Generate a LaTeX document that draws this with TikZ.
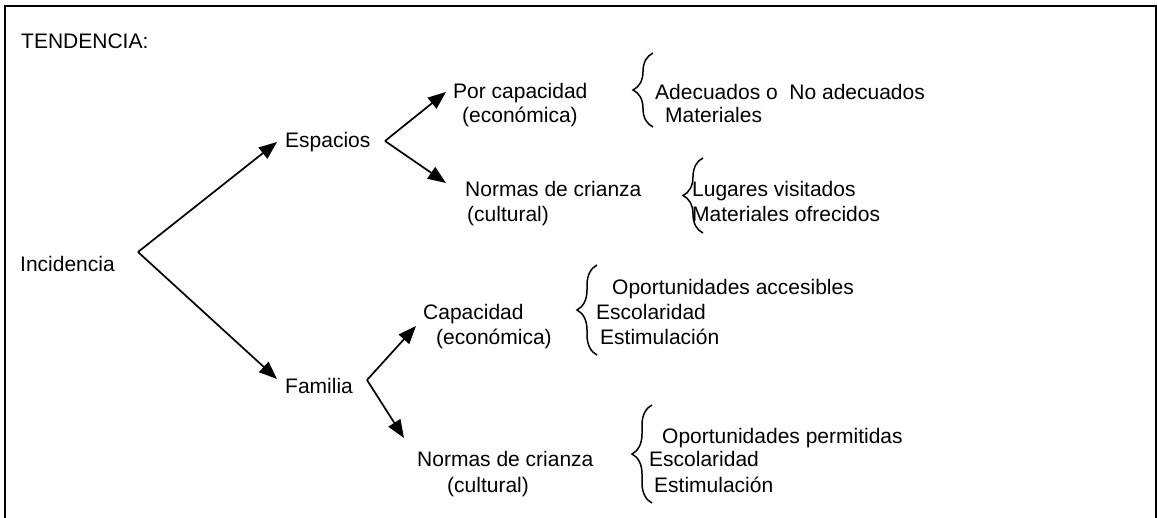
\documentclass[tikz,border=0pt]{standalone}
\usepackage{fontspec}
\setmainfont{Liberation Sans}
\usetikzlibrary{arrows.meta,decorations.pathreplacing}
\begin{document}
\begin{tikzpicture}[x=1pt,y=-1pt,
 txt/.style={anchor=base west,inner sep=0pt,font=\fontsize{21}{24}\selectfont},
 arr/.style={line width=1.7pt,-{Triangle[length=18pt,width=14pt]}},
 brc/.style={line width=1.5pt,decorate,decoration={brace,amplitude=20pt,aspect=0.5}},
 frame/.style={line width=2pt}]
\useasboundingbox (0,0) rectangle (1157,518);
% frame
\draw[frame] (5,530) -- (5,6) -- (1156,6) -- (1156,530);
% texts
\node[txt] (tend) at (21,49) {TENDENCIA:};
\node[txt] (inc) at (20,272) {Incidencia};
\node[txt] (esp) at (285,148) {Espacios};
\node[txt] (fam) at (285,394) {Familia};
\node[txt] (porcap) at (453,99) {Por capacidad};
\node[txt] (econ1) at (462,123) {(económica)};
\node[txt] (norm1) at (465,197) {Normas de crianza};
\node[txt] (cult1) at (467,222) {(cultural)};
\node[txt] (adec) at (655,100) {Adecuados o\ \ No adecuados};
\node[txt] (mat1) at (665,123) {Materiales};
\node[txt] (lug) at (692,197) {Lugares visitados};
\node[txt] (matof) at (692,222) {Materiales ofrecidos};
\node[txt] (cap) at (423,320) {Capacidad};
\node[txt] (econ2) at (436,345) {(económica)};
\node[txt] (norm2) at (417,467) {Normas de crianza};
\node[txt] (cult2) at (447,492) {(cultural)};
\node[txt] (op1) at (612,295) {Oportunidades accesibles};
\node[txt] (esc1) at (596,320) {Escolaridad};
\node[txt] (est1) at (600,345) {Estimulación};
\node[txt] (op2) at (662,443) {Oportunidades permitidas};
\node[txt] (esc2) at (649,467) {Escolaridad};
\node[txt] (est2) at (654,492) {Estimulación};
% branch points and arrow tips
\coordinate (vInc) at (138,252);
\coordinate (tEsp) at (277,142);
\coordinate (tFam) at (277,379);
\coordinate (vEsp) at (385,141);
\coordinate (tPor) at (446,92);
\coordinate (tNor1) at (446,183);
\coordinate (vFam) at (367,380);
\coordinate (tCap) at (416,326);
\coordinate (tNor2) at (404,438);
\draw[arr] (vInc) -- (tEsp);
\draw[arr] (vInc) -- (tFam);
\draw[arr] (vEsp) -- (tPor);
\draw[arr] (vEsp) -- (tNor1);
\draw[arr] (vFam) -- (tCap);
\draw[arr] (vFam) -- (tNor2);
% braces
\coordinate (b1a) at (653,127); \coordinate (b1b) at (653,53);
\coordinate (b2a) at (703,233); \coordinate (b2b) at (703,158);
\coordinate (b3a) at (597,355); \coordinate (b3b) at (597,265);
\coordinate (b4a) at (652,503); \coordinate (b4b) at (652,405);
\draw[brc] (b1a) -- (b1b);
\draw[brc] (b2a) -- (b2b);
\draw[brc] (b3a) -- (b3b);
\draw[brc] (b4a) -- (b4b);
\end{tikzpicture}
\end{document}
